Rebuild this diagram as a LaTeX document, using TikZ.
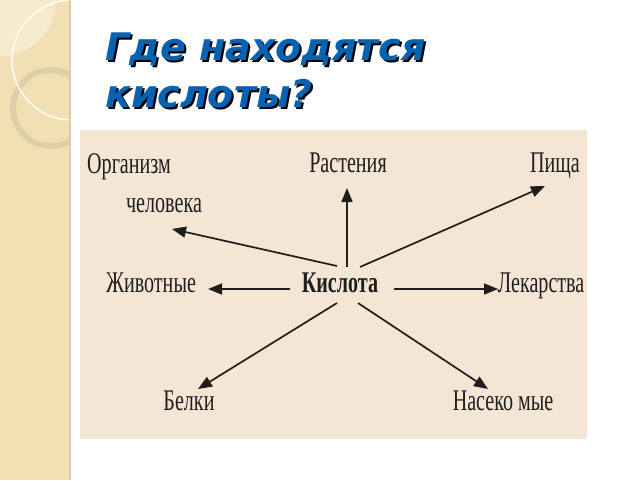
\documentclass[tikz,border=0pt]{standalone}
\usepackage{fontspec}
\usetikzlibrary{arrows.meta}
\newfontfamily\titlefont{DejaVu Sans}
\newfontfamily\labfont[FakeStretch=0.67]{Liberation Serif}
\definecolor{strip}{HTML}{F0E0B4}
\definecolor{stripl}{HTML}{F6EBCC}
\definecolor{ringc}{HTML}{DCCDA8}
\definecolor{panel}{HTML}{F5E5D5}
\definecolor{titleblue}{HTML}{0862B2}
\definecolor{ink}{HTML}{1E1E1E}
\newcommand{\shadowed}[1]{\rlap{\hspace{2pt}\raisebox{-2pt}{\color{black}#1}}{\color{titleblue}#1}}
\tikzset{
  lab/.style={font=\labfont\fontsize{30}{30}\selectfont, text=ink, inner sep=0pt, anchor=base},
  titletext/.style={font=\titlefont\bfseries\itshape\fontsize{38}{38}\selectfont, inner sep=0pt, anchor=base west},
  arr/.style={draw=ink, line width=1.7pt, -{Triangle[length=14pt,width=11pt]}}
}
\begin{document}
\begin{tikzpicture}[x=1pt,y=-1pt]
\useasboundingbox (0,0) rectangle (640,480);
\fill[white] (0,0) rectangle (640,480);
% left strip
\fill[strip] (0,0) rectangle (69,480);
\begin{scope}
  \clip (0,0) rectangle (69,480);
  \fill[stripl] (0,0) circle (56);
  \draw[ringc, line width=6pt, opacity=0.85] (51,108) circle (38);
  \draw[white, line width=1.4pt, opacity=0.95] (72,60) circle (60);
\end{scope}
\fill[ringc] (69,0) rectangle (71,480);
% title
\node[titletext] (t1) at (105,60) {\shadowed{Где находятся}};
\node[titletext] (t2) at (105,107) {\shadowed{кислоты?}};
% panel
\fill[panel] (80,130) rectangle (587,439);
% labels
\node[lab] (org) at (129,173) {Организм};
\node[lab] (chel) at (164,212) {человека};
\node[lab] (rast) at (348,172) {Растения};
\node[lab] (pis) at (555,172) {Пища};
\node[lab] (ziv) at (151,292) {Животные};
\node[lab, font=\labfont\bfseries\fontsize{30}{30}\selectfont] (k) at (340,292) {Кислота};
\node[lab] (lek) at (541,292) {Лекарства};
\node[lab] (bel) at (189,410) {Белки};
\node[lab] (nas) at (503,410) {Насеко мые};
% arrow ends
\coordinate (s1) at (337,266); \coordinate (e1) at (172,229);
\coordinate (s2) at (347,267); \coordinate (e2) at (347,188);
\coordinate (s3) at (360,267); \coordinate (e3) at (545,186);
\coordinate (s4) at (290,289); \coordinate (e4) at (208,289);
\coordinate (s5) at (394,289); \coordinate (e5) at (498,289);
\coordinate (s6) at (337,303); \coordinate (e6) at (198,389);
\coordinate (s7) at (358,303); \coordinate (e7) at (488,389);
\draw[arr] (s1) -- (e1);
\draw[arr] (s2) -- (e2);
\draw[arr] (s3) -- (e3);
\draw[arr] (s4) -- (e4);
\draw[arr] (s5) -- (e5);
\draw[arr] (s6) -- (e6);
\draw[arr] (s7) -- (e7);
\end{tikzpicture}
\end{document}
